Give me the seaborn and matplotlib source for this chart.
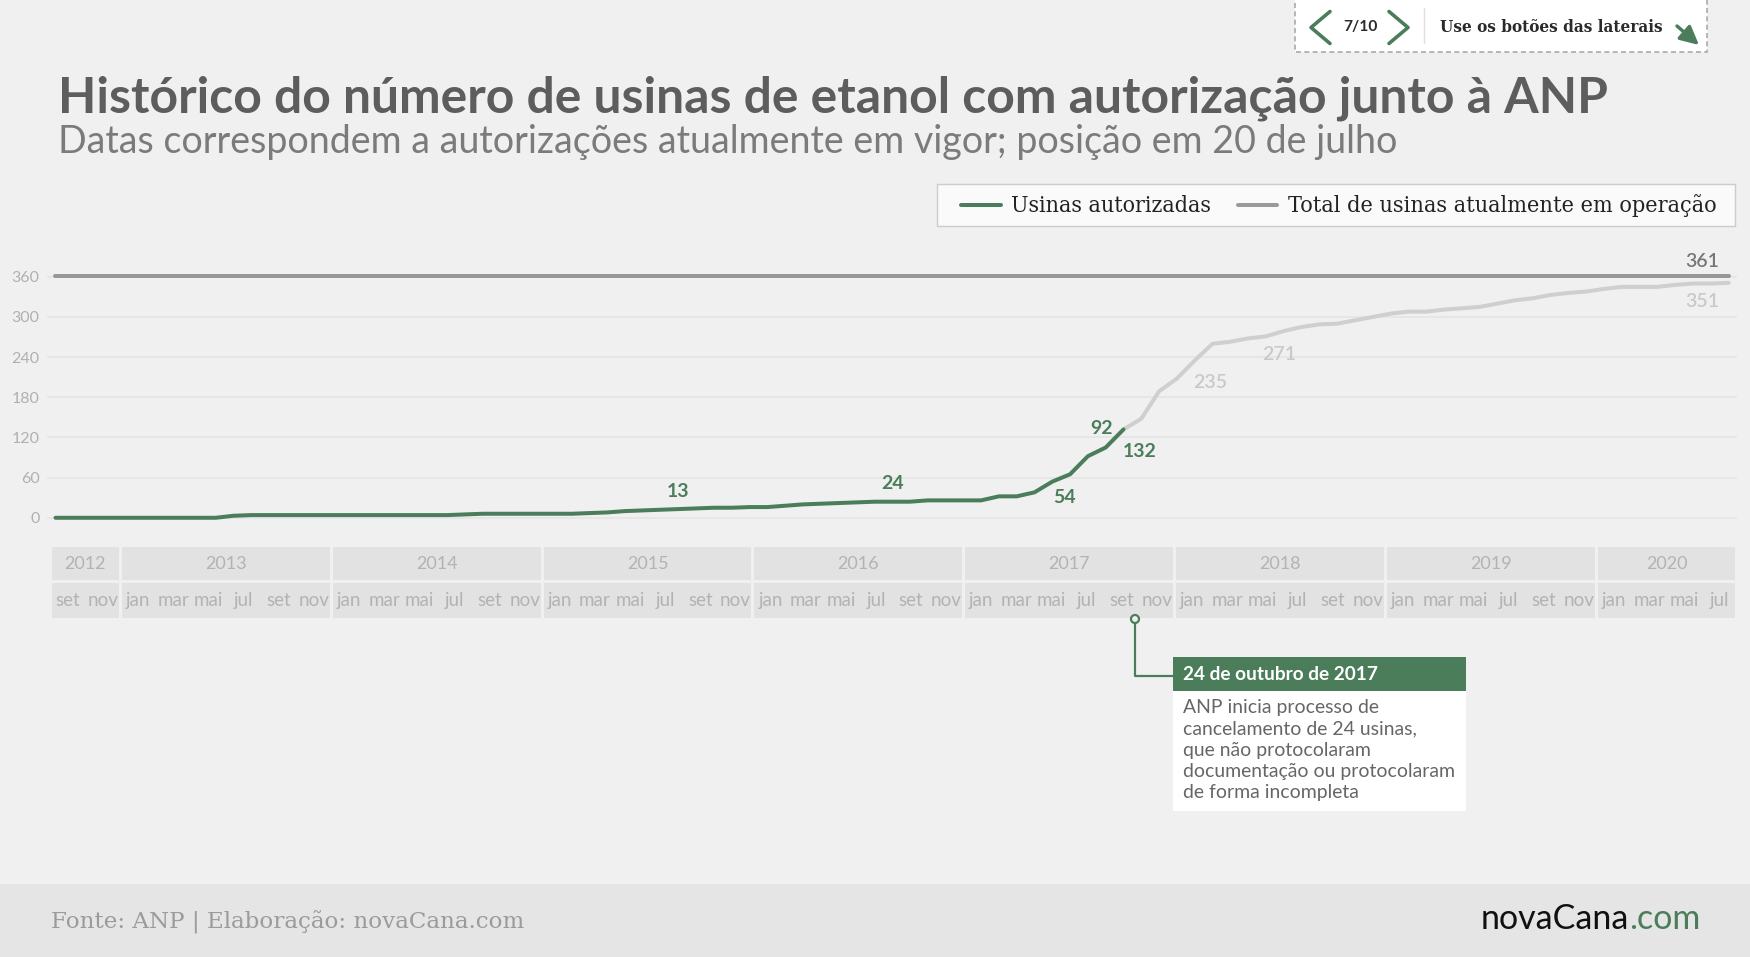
import numpy as np
import pandas as pd
import matplotlib
matplotlib.use("Agg")
import matplotlib.pyplot as plt
import seaborn as sns
from matplotlib.patches import Rectangle, FancyArrowPatch, Circle
from matplotlib.lines import Line2D

# ---------------- data ----------------
years = [2012, 2013, 2014, 2015, 2016, 2017, 2018, 2019, 2020]
month_names = ["jan", "fev", "mar", "abr", "mai", "jun", "jul", "ago", "set", "out", "nov", "dez"]
# monthly points from set/2012 to jul/2020
usinas = [0, 0, 0, 0, 0, 0, 0, 0, 0, 0,
          3, 4, 4, 4, 4, 4, 4, 4, 4, 4,
          4, 4, 4, 5, 6, 6, 6, 6, 6, 6,
          7, 8, 10, 11, 12, 13, 14, 15, 15, 16,
          16, 18, 20, 21, 22, 23, 24, 24, 24, 26,
          26, 26, 26, 32, 32, 38, 54, 65, 92, 105,
          132, 148, 189, 208, 235, 260, 263, 268, 271, 279,
          285, 289, 290, 295, 300, 305, 308, 308, 311, 313,
          315, 320, 325, 328, 333, 336, 338, 342, 345, 345,
          345, 348, 350, 350, 351]
total_operacao = 361
corte_idx = 60                      # last month of "Usinas autorizadas" (green part)
green_label_idx = [35, 47, 56, 58, 60]
gray_label_idx = [64, 68, 94]
y_ticks = [0, 60, 120, 180, 240, 300, 360]
annot_month = 61 + 23 / 31          # 24 de outubro de 2017
annot_title = "24 de outubro de 2017"
annot_lines = ["ANP inicia processo de", "cancelamento de 24 usinas,",
               "que não protocolaram", "documentação ou protocolaram",
               "de forma incompleta"]

# month labels per index
start_year, start_month = 2012, 9
idx = np.arange(len(usinas))
mon_of = [(start_month - 1 + i) % 12 for i in idx]
year_of = [start_year + (start_month - 1 + i) // 12 for i in idx]
month_lbl = [month_names[m] for m in mon_of]

df = pd.DataFrame({"idx": idx, "usinas": usinas, "total": total_operacao,
                   "ano": year_of, "mes": month_lbl})

# ---------------- style ----------------
GREEN = "#4b7d5a"
LIGHT = "#cfcfcf"
TOTAL = "#979797"
BG = "#f0f0f0"
W, H = 1750, 957

sns.set_theme(style="white")
plt.rcParams["font.family"] = ["Lato", "DejaVu Sans"]

fig = plt.figure(figsize=(W / 100, H / 100), dpi=100, facecolor=BG)
renderer = fig.canvas.get_renderer()


def fit(t, target):
    w = t.get_window_extent(renderer=renderer).width
    t.set_fontsize(t.get_fontsize() * target / w)
    return t


# overlay axes in pixel coordinates (layout only)
ov = fig.add_axes([0, 0, 1, 1], zorder=3)
ov.set_xlim(0, W)
ov.set_ylim(H, 0)
ov.axis("off")
ov.patch.set_alpha(0)

# ---------------- main chart ----------------
ax = fig.add_axes([46.6 / W, 1 - 534.5 / H, (1736.7 - 46.6) / W, (534.5 - 266.8) / H], zorder=2)
ax.patch.set_alpha(0)
lw = 4 / 1.389
sns.lineplot(data=df[df.idx >= corte_idx], x="idx", y="usinas", color=LIGHT, lw=lw,
             solid_capstyle="round", ax=ax)
sns.lineplot(data=df[df.idx <= corte_idx], x="idx", y="usinas", color=GREEN, lw=lw,
             solid_capstyle="round", ax=ax)
sns.lineplot(data=df, x="idx", y="total", color=TOTAL, lw=lw, solid_capstyle="round", ax=ax)
ax.set_xlim(-0.5, 94.45)
ax.set_ylim(-25, 375)
ax.set_yticks(y_ticks)
ax.set_yticklabels([str(v) for v in y_ticks], color="#b0b0b0", fontsize=11.5)
ax.tick_params(axis="y", length=0, pad=5)
ax.set_xticks([])
ax.set_xlabel("")
ax.set_ylabel("")
for s in ax.spines.values():
    s.set_visible(False)
ax.grid(axis="y", color="#e3e3e3", lw=1.1)
ax.set_axisbelow(True)

lab_kw = dict(textcoords="offset pixels", ha="center", va="center", fontsize=14, fontweight="bold")
green_offsets = {35: (0, 18), 47: (0, 18), 56: (12, -16), 58: (14, 28), 60: (16, -22)}
for i in green_label_idx:
    ax.annotate(str(usinas[i]), (i, usinas[i]), xytext=green_offsets[i], color=GREEN, **lab_kw)
gray_offsets = {64: (15, -22), 68: (13, -18), 94: (-26, -19)}
for i in gray_label_idx:
    ax.annotate(str(usinas[i]), (i, usinas[i]), xytext=gray_offsets[i], color="#c9c9c9",
                **{**lab_kw, "fontweight": "semibold"})
ax.annotate(str(total_operacao), (94, total_operacao), xytext=(-26, 15), color="#777777",
            **{**lab_kw, "fontweight": "semibold"})

# ---------------- month / year table ----------------
at = fig.add_axes([50.2 / W, 1 - 617.7 / H, 1686.7 / W, 71 / H], zorder=1)
at.set_xlim(0, 96)
at.set_ylim(71, 0)
at.axis("off")
at.patch.set_alpha(0)
gap = 0.085
for y in years:
    ms = df.idx[df.ano == y]
    m0 = ms.min()
    m1 = ms.max() + 1 if y != years[-1] else 96
    for (y0, y1) in [(0, 33.3), (36.6, 71)]:
        at.add_patch(Rectangle((m0 + gap, y0), (m1 - m0) - 2 * gap, y1 - y0,
                               facecolor="#e2e2e2", edgecolor="none"))
    at.text((m0 + m1) / 2, 17.5, str(y), ha="center", va="center", color="#b3b3b3",
            fontsize=13)
for i in idx[::2]:
    at.text(i + 1, 54, month_lbl[i], ha="center", va="center", color="#b3b3b3", fontsize=13.5)

# ---------------- annotation callout ----------------
cx = at.transData.transform((annot_month, 0))[0]
cy = 619
ov.add_line(Line2D([cx, cx, cx + 38.4], [cy + 4, 676, 676], color=GREEN, lw=2.2 / 1.389, zorder=3))
ov.add_patch(Circle((cx, cy), 4.0, facecolor=BG, edgecolor=GREEN, lw=2.2 / 1.389, zorder=4))
bx0, bx1 = cx + 38.4, cx + 331
ov.add_patch(Rectangle((bx0, 657.3), bx1 - bx0, 691 - 657.3, facecolor=GREEN, edgecolor="none"))
ov.add_patch(Rectangle((bx0, 691), bx1 - bx0, 810.7 - 691, facecolor="white", edgecolor="none"))
t = ov.text(bx0 + 10, 675, annot_title, color="white", fontweight="bold", fontsize=13,
            ha="left", va="center")
fit(t, 194)
body = []
for k, line in enumerate(annot_lines):
    body.append(ov.text(bx0 + 10, 713.3 + 21.25 * k, line, color="#666666", fontsize=12.5,
                        ha="left", va="baseline"))
w_max = max(b.get_window_extent(renderer=renderer).width for b in body)
for b in body:
    b.set_fontsize(b.get_fontsize() * 272 / w_max)

# ---------------- titles ----------------
t = ov.text(58, 112.7, "Histórico do número de usinas de etanol com autorização junto à ANP",
            color="#5d5d5d", fontweight="bold", fontsize=35, ha="left", va="baseline")
fit(t, 1555)
t = ov.text(58, 153, "Datas correspondem a autorizações atualmente em vigor; posição em 20 de julho",
            color="#7b7b7b", fontsize=26, ha="left", va="baseline")
fit(t, 1339)

# ---------------- legend ----------------
ov.add_patch(Rectangle((937, 184), 1734.7 - 937, 226 - 184, facecolor="#fafafa",
                       edgecolor="#cccccc", lw=1, zorder=1))
ov.add_line(Line2D([961, 1001], [205, 205], color=GREEN, lw=lw, solid_capstyle="round", zorder=2))
ov.add_line(Line2D([1238, 1277], [205, 205], color="#9a9a9a", lw=lw, solid_capstyle="round", zorder=2))
slab = ["DejaVu Serif"]
t = ov.text(1011, 206, "Usinas autorizadas", family=slab, fontstretch="condensed",
            color="#222222", fontsize=15, ha="left", va="center", zorder=2)
fit(t, 200)
t = ov.text(1287.5, 206, "Total de usinas atualmente em operação", family=slab,
            fontstretch="condensed", color="#222222", fontsize=15, ha="left", va="center", zorder=2)
fit(t, 427)

# ---------------- navigation box ----------------
ov.add_patch(Rectangle((1295, -5), 1706.7 - 1295, 51.7 + 5, facecolor="white", edgecolor="#aaaaaa",
                       lw=1.2, ls=(0, (3, 2)), zorder=1))
ov.add_line(Line2D([1330, 1311, 1330], [11.5, 27.5, 43.5], color=GREEN, lw=3.6 / 1.389, zorder=2))
ov.add_line(Line2D([1389, 1408, 1389], [11.5, 27.5, 43.5], color=GREEN, lw=3.6 / 1.389, zorder=2))
ov.add_line(Line2D([1424, 1424], [8, 43], color="#e0e0e0", lw=1, zorder=2))
t = ov.text(1343, 27, "7/10", fontweight="bold", color="#2a2a2a", fontsize=12,
            ha="left", va="center", zorder=2)
fit(t, 34)
t = ov.text(1440, 27, "Use os botões das laterais", family=slab, fontweight="bold",
            fontstretch="condensed", color="#2a2a2a", fontsize=12, ha="left", va="center", zorder=2)
fit(t, 223)
ov.add_patch(FancyArrowPatch((1677, 26), (1699, 45), arrowstyle="-|>", mutation_scale=28,
                             color=GREEN, lw=3.4 / 1.389, zorder=2, shrinkA=0, shrinkB=0))

# ---------------- footer ----------------
ov.add_patch(Rectangle((0, 884), W, H - 884, facecolor="#e5e5e5", edgecolor="none", zorder=0))
t = ov.text(51, 928.5, "Fonte: ANP | Elaboração: novaCana.com", family=slab, color="#9b9b9b",
            fontsize=17, ha="left", va="baseline")
fit(t, 474)
t1 = ov.text(1481, 929, "novaCana", color="#111111", fontsize=20, fontweight="normal",
             ha="left", va="baseline")
fit(t1, 148)
x_end = ov.transData.inverted().transform(
    (t1.get_window_extent(renderer=renderer).x1, 0))[0]
ov.text(x_end, 929, ".com", color=GREEN, fontsize=t1.get_fontsize(), fontweight="normal",
        ha="left", va="baseline")

fig.savefig("out.png", dpi=100, facecolor=BG)
